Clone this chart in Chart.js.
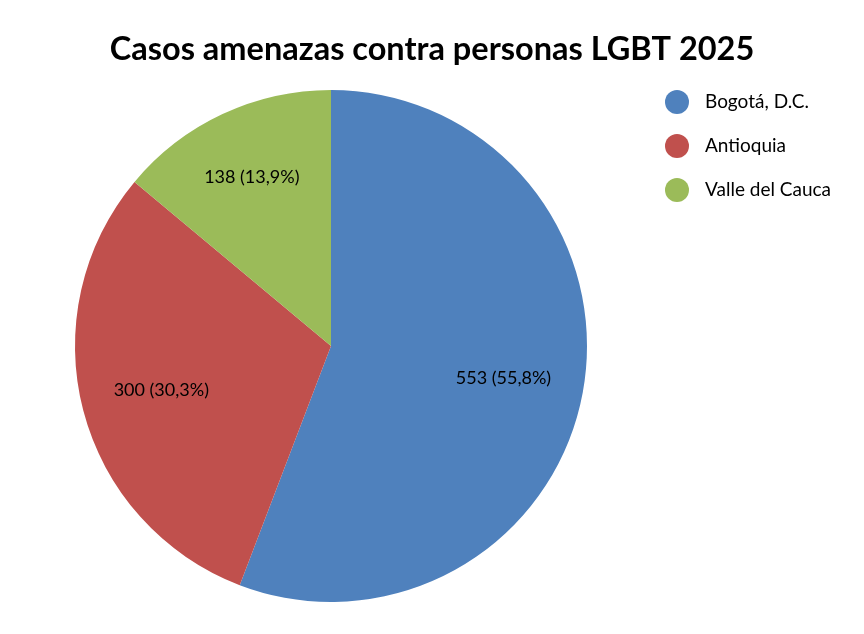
<!DOCTYPE html>
<html>
<head>
<meta charset="utf-8">
<script src="https://cdn.jsdelivr.net/npm/chart.js@4.4.0/dist/chart.umd.min.js"></script>
<style>
html,body{margin:0;padding:0;background:#fff;}
#wrap{width:864px;height:634px;position:relative;}
</style>
</head>
<body>
<div id="wrap"><canvas id="c" width="864" height="634"></canvas></div>
<script>
const categories = ['Bogotá, D.C.', 'Antioquia', 'Valle del Cauca'];
const values = [553, 300, 138];
const colors = ['#4F81BD', '#C0504D', '#9BBB59'];
const titleText = 'Casos amenazas contra personas LGBT 2025';
const FONT = 'Lato, "Open Sans", sans-serif';

const sliceLabels = {
  id: 'sliceLabels',
  afterDatasetsDraw(chart) {
    const ctx = chart.ctx;
    const meta = chart.getDatasetMeta(0);
    const data = chart.data.datasets[0].data;
    const total = data.reduce((a, b) => a + b, 0);
    ctx.save();
    ctx.fillStyle = '#000';
    ctx.font = '18px ' + FONT;
    ctx.textAlign = 'center';
    ctx.textBaseline = 'middle';
    meta.data.forEach((arc, i) => {
      const p = arc.getProps(['x', 'y', 'startAngle', 'endAngle', 'outerRadius'], true);
      const mid = (p.startAngle + p.endAngle) / 2;
      const d = p.outerRadius * (i === 2 ? 0.73 : 0.685);
      const x = p.x + Math.cos(mid) * d;
      const y = p.y + Math.sin(mid) * d;
      const pct = (data[i] / total * 100).toFixed(1).replace('.', ',');
      ctx.fillText(data[i] + ' (' + pct + '%)', x, y);
    });
    ctx.restore();
  }
};

const titleAndLegend = {
  id: 'titleAndLegend',
  afterDraw(chart) {
    const ctx = chart.ctx;
    ctx.save();
    // title
    ctx.fillStyle = '#000';
    ctx.font = 'bold 32.5px ' + FONT;
    ctx.textAlign = 'center';
    ctx.textBaseline = 'alphabetic';
    ctx.fillText(titleText, chart.width / 2, 60);
    // legend
    const labels = chart.data.labels;
    const bg = chart.data.datasets[0].backgroundColor;
    ctx.font = '19px ' + FONT;
    ctx.textAlign = 'left';
    ctx.textBaseline = 'middle';
    labels.forEach((lab, i) => {
      const cy = 102 + i * 44;
      ctx.beginPath();
      ctx.arc(677, cy, 12, 0, Math.PI * 2);
      ctx.fillStyle = bg[i];
      ctx.fill();
      ctx.fillStyle = '#000';
      ctx.fillText(lab, 705, cy);
    });
    ctx.restore();
  }
};

new Chart(document.getElementById('c'), {
  type: 'pie',
  data: {
    labels: categories,
    datasets: [{
      data: values,
      backgroundColor: colors,
      borderWidth: 0
    }]
  },
  options: {
    responsive: false,
    animation: false,
    layout: { padding: { top: 90, bottom: 32, left: 0, right: 202 } },
    plugins: {
      title: { display: false },
      legend: { display: false },
      tooltip: { enabled: false }
    }
  },
  plugins: [sliceLabels, titleAndLegend]
});
</script>
</body>
</html>
